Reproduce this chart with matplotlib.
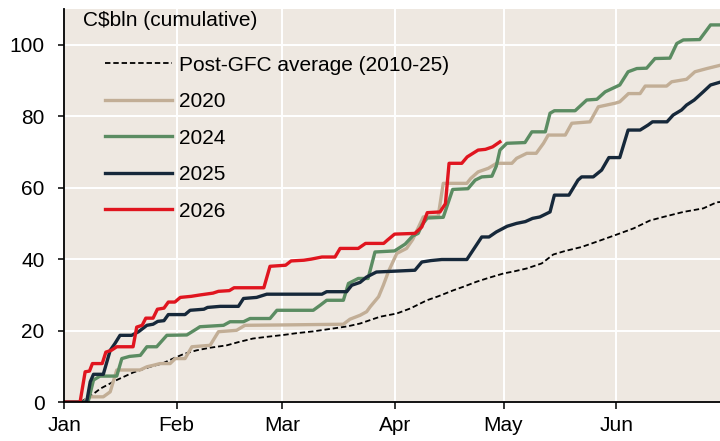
import matplotlib
matplotlib.use("Agg")
import matplotlib.pyplot as plt

plt.rcParams["font.family"] = ["Liberation Sans", "DejaVu Sans"]

# x = day of year (0 = 1 Jan, leap-year calendar), y = C$bln cumulative
month_days = [0, 31, 60, 91, 121, 152]
month_labels = ["Jan", "Feb", "Mar", "Apr", "May", "Jun"]

post_gfc = [(0, 0), (4.4, 0), (7, 1.5), (10, 3.8), (14.5, 6.2), (19, 8.3), (23.7, 9.9),
            (27, 10.8), (30, 12.2), (33, 13.5), (36.5, 14.5), (40, 15.2), (44.8, 15.9),
            (48, 16.8), (52, 17.8), (56, 18.3), (60.4, 18.8), (64, 19.3), (68.6, 19.8),
            (74, 20.6), (78, 21.2), (81.5, 22), (87, 23.9), (91.6, 24.8), (95.3, 26.2),
            (99.9, 28.5), (103, 29.6), (107.2, 31.3), (110, 32.3), (113.6, 33.7),
            (117, 34.8), (121, 36), (124, 36.6), (127.4, 37.4), (131.5, 38.8),
            (134.7, 41.3), (138, 42.3), (142.5, 43.4), (147, 45), (151.7, 46.7),
            (156.8, 48.6), (161.3, 50.8), (165, 51.8), (170.5, 53.2), (176, 54.2),
            (179.7, 55.9), (181, 56)]

y2020 = [(0, 0), (5.3, 0), (7.2, 1.5), (10.8, 1.5), (12.7, 2.9), (14.5, 9), (20.9, 9),
         (22.8, 9.9), (24.5, 10.3), (26.4, 10.8), (29.2, 10.8), (30.6, 12.2), (33.3, 12.2),
         (35.2, 15.5), (40.2, 15.9), (42.5, 19.7), (47.5, 20.1), (49.8, 21.5),
         (60, 21.6), (76.9, 21.8), (78.7, 23.2), (81.5, 24.3), (83.3, 25.3), (84.3, 26.7),
         (86.6, 29.5), (87.9, 32.7), (89.3, 36.5), (91.6, 41.6), (94.3, 43), (96, 45.5),
         (98.9, 51.8), (103, 52), (104.4, 61.2), (110.9, 61.2), (112, 62.6), (114, 64.4),
         (116.8, 65.4), (119.1, 66.8), (123.3, 66.8), (124.6, 68.2), (127.4, 69.6),
         (130, 69.6), (132, 72.4), (133.3, 74.7), (138, 74.7), (139.8, 78),
         (144.8, 78.4), (147.1, 82.6), (151.7, 83.6), (153, 84), (155.4, 86.3),
         (158.6, 86.3), (160, 88.4), (165.9, 88.4), (167.3, 89.6), (171.4, 90.3),
         (173.7, 92.4), (177, 93.3), (181, 94.3)]

y2024 = [(0, 0), (6.6, 0), (8.1, 6.2), (9.9, 7.3), (14.5, 7.3), (15.9, 12.2), (18, 12.8),
         (21, 13.1), (22.8, 15.5), (25.5, 15.5), (28.3, 18.7), (33.8, 18.8), (36.5, 20.5),
         (37.4, 21.1), (43.9, 21.5), (45.7, 22.5), (49.4, 22.5), (51.2, 23.4), (56.7, 23.4),
         (58.6, 25.7), (68.6, 25.7), (70.5, 27.1), (72.3, 28.5), (76.9, 28.5),
         (78.3, 33.2), (81, 34.6), (83.7, 34.6), (85.6, 42), (91, 42.3), (93.9, 44.2),
         (96, 46.5), (97.5, 47.2), (98.5, 49.5), (100, 51.5), (104.4, 51.7), (107, 59.5),
         (111.2, 59.7), (113.2, 62.1), (115, 63), (117.8, 63.2), (119, 66), (120, 70.5),
         (121.9, 72.4), (126.9, 72.6), (128.8, 75.6), (132.5, 75.6), (133.8, 80.8),
         (135, 81.5), (140.7, 81.5), (143.9, 84.5), (146.7, 84.7), (149, 86.8),
         (153, 88.7), (155.3, 92.4), (157.7, 93.3), (160.4, 93.4), (162.7, 96.1),
         (166.8, 96.2), (168.7, 100.3), (170.5, 101.3), (175, 101.4), (178, 105.5),
         (181, 105.5)]

y2025 = [(0, 0), (6.2, 0), (7.2, 5.7), (8.1, 7.8), (10.8, 7.8), (12.7, 14.5), (14, 16.4),
         (15.4, 18.7), (18.6, 18.7), (20.5, 19.7), (22.8, 21.5), (24.5, 21.8),
         (25.8, 22.6), (27.5, 22.8), (28.7, 24.5), (33.3, 24.5), (34.7, 25.7),
         (38.5, 26), (39.5, 26.5), (43, 26.8), (48, 26.8), (49.4, 29), (53, 29.3),
         (55.8, 30.2), (71, 30.2), (72.3, 30.9), (77.8, 30.9), (79.2, 32.7),
         (81.5, 33.5), (83.3, 35), (86, 36.4), (96.6, 36.9), (98.5, 39.2), (101, 39.6),
         (104, 39.9), (110.9, 39.9), (115, 46.2), (117, 46.2), (119, 47.6), (122, 49.2),
         (124.6, 50), (127, 50.5), (129, 51.4), (131, 51.8), (133.8, 53.2), (135, 57.9),
         (139, 57.9), (141.5, 62.1), (142.5, 63), (145.7, 63), (148, 64.9), (150, 68.4),
         (153, 68.4), (155.3, 76.1), (158.6, 76.1), (160.8, 77.5), (162, 78.4),
         (166, 78.4), (167.7, 80.3), (170, 81.7), (171.4, 83.1), (173.5, 84.5),
         (176, 86.8), (178, 88.7), (181, 89.6)]

y2026 = [(0, 0), (4.4, 0), (5.8, 8.5), (7, 8.7), (7.8, 10.8), (10.5, 10.8), (11.5, 14),
         (13, 14.5), (14.5, 15.5), (19, 15.5), (20, 21), (21.5, 21.5), (22.5, 23.5),
         (24.5, 23.5), (25.7, 26), (27.5, 26.3), (28.7, 28), (30.5, 28), (32, 29.3),
         (35, 29.6), (37.5, 30), (41, 30.5), (42.5, 31), (45.5, 31.2), (46.8, 32),
         (55, 32), (56.7, 38), (61, 38.3), (62.5, 39.5), (66, 39.7), (68, 40),
         (71, 40.6), (74.6, 40.6), (76, 43), (81, 43), (83, 44.4), (88, 44.4),
         (89, 45.3), (91, 47), (96.6, 47.2), (98.5, 49), (100, 53), (103.5, 53.2),
         (105, 55.5), (106, 66.8), (109.5, 66.8), (111, 68.6), (114, 70.5), (116, 70.7),
         (118, 71.4), (120, 72.8)]

series = [
    ("Post-GFC average (2010-25)", post_gfc, "black", 1.3, "--"),
    ("2020", y2020, "#c2ae96", 2.4, "-"),
    ("2024", y2024, "#5b8c62", 2.4, "-"),
    ("2025", y2025, "#16283a", 2.4, "-"),
    ("2026", y2026, "#e0151f", 2.4, "-"),
]

fig = plt.figure(figsize=(7.2, 4.41), dpi=100)
ax = fig.add_axes([0.089, 0.088, 0.911, 0.892])
ax.set_facecolor("#eee8e1")

for label, pts, color, lw, ls in series:
    xs = [p[0] for p in pts]
    ys = [p[1] for p in pts]
    ax.plot(xs, ys, color=color, lw=lw, ls=ls, label=label,
            solid_joinstyle="round", dashes=(3, 1.6) if ls == "--" else (None, None))

ax.set_xlim(0, 180.6)
ax.set_ylim(0, 110)
ax.set_yticks([0, 20, 40, 60, 80, 100])
ax.set_xticks(month_days)
ax.set_xticklabels(month_labels)
ax.grid(True, color="white", lw=1.4)
ax.set_axisbelow(True)

for s in ["top", "right"]:
    ax.spines[s].set_visible(False)
for s in ["left", "bottom"]:
    ax.spines[s].set_linewidth(1.3)
    ax.spines[s].set_color("black")
ax.tick_params(axis="y", length=4, width=1.1, pad=10, labelsize=15)
ax.tick_params(axis="x", length=5, width=1.1, pad=5, labelsize=15)

ax.text(0.029, 0.970, "C$bln (cumulative)", transform=ax.transAxes,
        fontsize=15, va="center", ha="left")

ax.legend(loc="upper left", bbox_to_anchor=(0.0625, 0.881), frameon=False,
          fontsize=15, handlelength=3.2, handletextpad=0.35, labelspacing=0.84,
          borderpad=0, borderaxespad=0)

fig.savefig("out.png", dpi=100)
